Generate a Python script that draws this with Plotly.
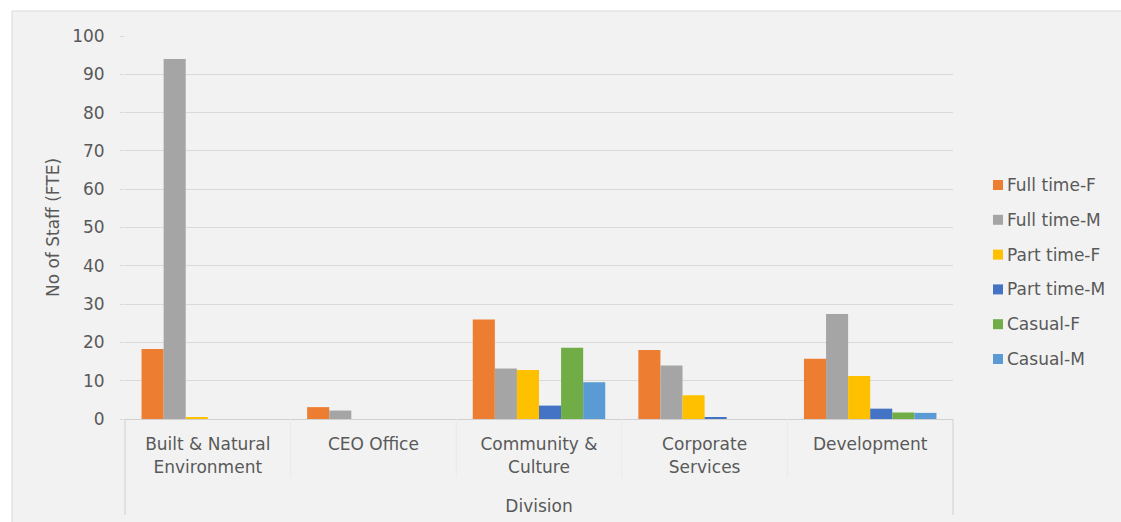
import plotly.graph_objects as go

# Staff (FTE) by division and employment type
divisions = ["Built & Natural<br>Environment", "CEO Office", "Community &<br>Culture",
             "Corporate<br>Services", "Development"]
division_keys = ["Built & Natural Environment", "CEO Office", "Community & Culture",
                 "Corporate Services", "Development"]

full_time_f = [18.3, 3.1, 26.0, 18.0, 15.7]
full_time_m = [94.0, 2.2, 13.2, 14.0, 27.4]
part_time_f = [0.5, 0.0, 12.8, 6.2, 11.2]
part_time_m = [0.0, 0.0, 3.5, 0.3, 2.7]
casual_f = [0.0, 0.0, 18.6, 0.0, 1.7]
casual_m = [0.0, 0.0, 9.6, 0.0, 1.6]

series_names = ["Full time-F", "Full time-M", "Part time-F", "Part time-M", "Casual-F", "Casual-M"]
series_values = [full_time_f, full_time_m, part_time_f, part_time_m, casual_f, casual_m]
series_colors = ["#ED7D31", "#A5A5A5", "#FFC000", "#4472C4", "#70AD47", "#5B9BD5"]

y_ticks = list(range(0, 101, 10))

FONT = "DejaVu Sans"
TEXT = "#595959"
W, H = 1121, 522
L, R, T, B = 125, 168, 36, 103
pw, ph = W - L - R, H - T - B


def px_x(p):
    return (p - L) / pw


def px_y(p):
    return (H - B - p) / ph


fig = go.Figure()
for name, vals, col in zip(series_names, series_values, series_colors):
    fig.add_trace(go.Bar(name=name, x=division_keys, y=vals, marker_color=col,
                         marker_line_width=0, showlegend=False))

shapes = [
    # chart area background and border
    dict(type="rect", xref="paper", yref="paper", x0=px_x(12), x1=px_x(W + 10),
         y0=px_y(H + 10), y1=px_y(11), fillcolor="#f2f2f2",
         line=dict(color="#d9d9d9", width=1), layer="below"),
    # outer edges of the category axis box
    dict(type="line", xref="paper", yref="paper", x0=0, x1=0, y0=px_y(515), y1=0,
         line=dict(color="#d0d0d0", width=1)),
    dict(type="line", xref="paper", yref="paper", x0=1, x1=1, y0=px_y(515), y1=0,
         line=dict(color="#d0d0d0", width=1)),
]
# faint separators between categories
n = len(division_keys)
for i in range(1, n):
    xp = i / n
    shapes.append(dict(type="line", xref="paper", yref="paper", x0=xp, x1=xp,
                       y0=px_y(478), y1=0, line=dict(color="#eaeaea", width=1)))

# legend entries
annotations = []
for i, (name, col) in enumerate(zip(series_names, series_colors)):
    cy = 185 + 34.8 * i
    shapes.append(dict(type="rect", xref="paper", yref="paper",
                       x0=px_x(993), x1=px_x(1003), y0=px_y(cy + 5), y1=px_y(cy - 5),
                       fillcolor=col, line=dict(width=0)))
    annotations.append(dict(xref="paper", yref="paper", x=px_x(1005), y=px_y(cy),
                            xanchor="left", yanchor="middle", text=name, showarrow=False,
                            font=dict(family=FONT, size=17, color=TEXT)))

fig.update_layout(
    width=W, height=H,
    margin=dict(l=L, r=R, t=T, b=B, autoexpand=False),
    paper_bgcolor="white",
    plot_bgcolor="rgba(0,0,0,0)",
    barmode="group", bargap=0.2, bargroupgap=0,
    font=dict(family=FONT, size=17, color=TEXT),
    shapes=shapes,
    annotations=annotations,
    xaxis=dict(
        tickmode="array", tickvals=division_keys, ticktext=divisions,
        showgrid=False, showline=True, linecolor="#d0d0d0", linewidth=1,
        ticks="", ticklabelstandoff=10,
        tickfont=dict(family=FONT, size=17, color=TEXT),
        title=dict(text="Division", standoff=24, font=dict(family=FONT, size=17, color=TEXT)),
        automargin=False, fixedrange=True,
    ),
    yaxis=dict(
        range=[0, 100], tickmode="array", tickvals=y_ticks,
        showgrid=True, gridcolor="#d9d9d9", gridwidth=1, zeroline=False,
        ticks="outside", ticklen=4, tickcolor="#d9d9d9",
        ticklabelstandoff=12,
        tickfont=dict(family=FONT, size=17, color=TEXT),
        title=dict(text="No of Staff (FTE)", standoff=8,
                   font=dict(family=FONT, size=17, color=TEXT)),
        automargin=False, fixedrange=True,
    ),
)

fig.write_html("out.html")
